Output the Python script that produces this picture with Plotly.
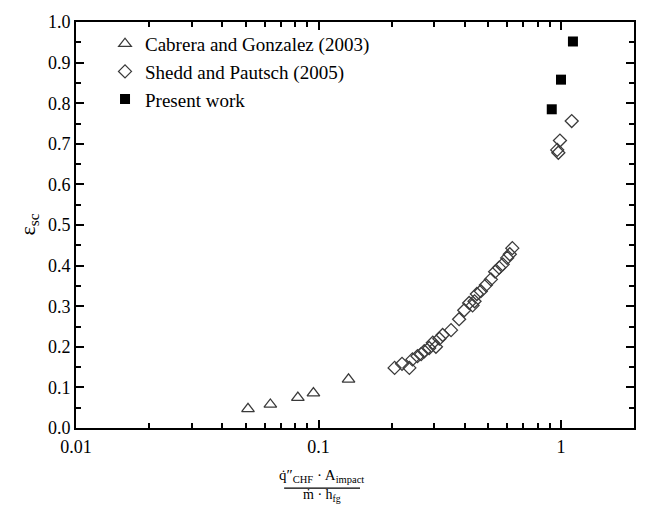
import plotly.graph_objects as go

# ---------------- data ----------------
cabrera_x = [0.0512, 0.0633, 0.0822, 0.0953, 0.133]
cabrera_y = [0.047, 0.058, 0.075, 0.086, 0.120]

shedd_x = [0.206, 0.221, 0.237, 0.244, 0.256, 0.265, 0.273, 0.286, 0.296, 0.305,
           0.315, 0.325, 0.352, 0.380, 0.399, 0.418, 0.432, 0.440, 0.450, 0.467,
           0.490, 0.514, 0.535, 0.556, 0.575, 0.600, 0.615, 0.630,
           0.965, 0.975, 0.990, 1.107]
shedd_y = [0.148, 0.158, 0.148, 0.169, 0.177, 0.182, 0.189, 0.197, 0.210, 0.200,
           0.220, 0.229, 0.241, 0.268, 0.290, 0.308, 0.302, 0.312, 0.330, 0.337,
           0.352, 0.366, 0.385, 0.395, 0.403, 0.419, 0.428, 0.443,
           0.685, 0.678, 0.708, 0.756]

present_x = [0.916, 1.00, 1.12]
present_y = [0.785, 0.858, 0.952]

x_major = [0.01, 0.1, 1]
x_major_text = ["0.01", "0.1", "1"]
x_minor = [0.02, 0.03, 0.04, 0.05, 0.06, 0.07, 0.08, 0.09,
           0.2, 0.3, 0.4, 0.5, 0.6, 0.7, 0.8, 0.9, 2]
y_major = [0.0, 0.1, 0.2, 0.3, 0.4, 0.5, 0.6, 0.7, 0.8, 0.9, 1.0]
y_minor = [0.05, 0.15, 0.25, 0.35, 0.45, 0.55, 0.65, 0.75, 0.85, 0.95]

FONT = "Liberation Serif"
GRAY = "#3a3a3a"

fig = go.Figure()
fig.add_trace(go.Scatter(
    x=cabrera_x, y=cabrera_y, mode="markers", name="Cabrera and Gonzalez (2003)",
    marker=dict(symbol="triangle-up-open", size=11, color=GRAY, line=dict(width=1.3, color=GRAY))))
fig.add_trace(go.Scatter(
    x=shedd_x, y=shedd_y, mode="markers", name="Shedd and Pautsch (2005)",
    marker=dict(symbol="diamond-open", size=10, color=GRAY, line=dict(width=1.3, color=GRAY))))
fig.add_trace(go.Scatter(
    x=present_x, y=present_y, mode="markers", name="Present work",
    marker=dict(symbol="square", size=10, color="black", line=dict(width=0))))

axis_common = dict(
    showline=True, linecolor="black", linewidth=2, mirror="ticks",
    ticks="inside", ticklen=8, tickwidth=2, tickcolor="black",
    showgrid=False, zeroline=False,
    tickfont=dict(family=FONT, size=18, color="black"),
)

fig.update_xaxes(
    type="log", range=[-2, 0.30103],
    tickmode="array", tickvals=x_major, ticktext=x_major_text,
    minor=dict(tickmode="array", tickvals=x_minor, ticks="inside", ticklen=5,
               tickwidth=2, tickcolor="black", showgrid=False),
    ticklabelstandoff=1,
    **axis_common)
fig.update_yaxes(
    range=[0, 1.0], tickmode="array", tickvals=y_major, tickformat=".1f",
    minor=dict(tickmode="array", tickvals=y_minor, ticks="inside", ticklen=5,
               tickwidth=2, tickcolor="black", showgrid=False),
    **axis_common)

# axis titles (x title is a stacked fraction)
fig.add_annotation(xref="paper", yref="paper", x=-0.085, y=0.5, textangle=-90,
                   xanchor="center", yanchor="middle",
                   text="ε<sub>sc</sub>", showarrow=False,
                   font=dict(family=FONT, size=22, color="black"))
fig.add_annotation(xref="paper", yref="paper", x=0.44, y=-0.118,
                   xanchor="center", yanchor="middle",
                   text="q̇″<sub>CHF</sub> · A<sub>impact</sub>", showarrow=False,
                   font=dict(family=FONT, size=15, color="black"))
fig.add_annotation(xref="paper", yref="paper", x=0.44, y=-0.167,
                   xanchor="center", yanchor="middle",
                   text="ṁ · h<sub>fg</sub>", showarrow=False,
                   font=dict(family=FONT, size=14, color="black"))
fig.add_shape(type="line", xref="paper", yref="paper", x0=0.373, x1=0.509,
              y0=-0.148, y1=-0.148, line=dict(color="black", width=1.2))

fig.update_layout(
    width=648, height=506,
    margin=dict(l=76, r=13, t=15, b=78),
    paper_bgcolor="white", plot_bgcolor="white",
    font=dict(family=FONT, color="black"),
    legend=dict(x=0.052, y=0.993, xanchor="left", yanchor="top",
                bgcolor="rgba(0,0,0,0)", font=dict(family=FONT, size=19, color="black"),
                tracegroupgap=0, itemwidth=30),
    showlegend=True,
)

fig.write_html("out.html")
